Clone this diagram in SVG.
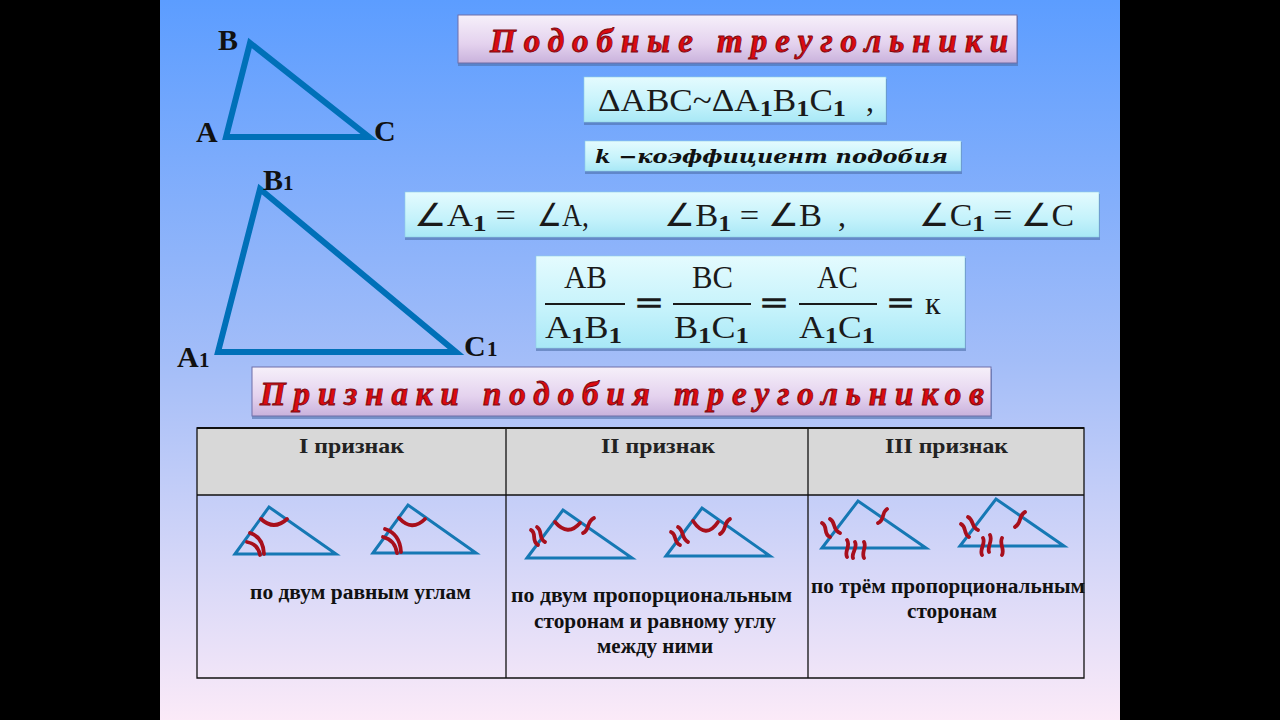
<svg xmlns="http://www.w3.org/2000/svg" width="1280" height="720" viewBox="0 0 1280 720">
<defs>
<linearGradient id="bg" x1="0" y1="0" x2="0" y2="1"><stop offset="0" stop-color="#5c9dff"/><stop offset="0.5" stop-color="#a3bdf8"/><stop offset="1" stop-color="#fbeaf8"/></linearGradient>
<linearGradient id="pink" x1="0" y1="0" x2="0" y2="1"><stop offset="0" stop-color="#f6f0fa"/><stop offset="0.6" stop-color="#e4d2ee"/><stop offset="1" stop-color="#c9b2dc"/></linearGradient>
<linearGradient id="cyan" x1="0" y1="0" x2="0" y2="1"><stop offset="0" stop-color="#e4fbfe"/><stop offset="0.6" stop-color="#c4f2fb"/><stop offset="1" stop-color="#a8e8f6"/></linearGradient>
</defs>
<style>
.pink{fill:url(#pink);stroke:#6f6fa8;stroke-width:1}
.cyan{fill:url(#cyan);stroke:#8fd0e4;stroke-width:.6}
.sh{fill:#4c6ea8;opacity:.6}
.title{font:italic bold 33px "Liberation Serif",serif;fill:#dc0a10;stroke:#7a0a10;stroke-width:.9}
.m{font:32px "Liberation Serif",serif;fill:#1a1a1a}
.s{font-weight:bold;font-size:24px}
.eq{stroke:#1a1a1a;stroke-width:1.4}
.lab{font:bold 30px "Liberation Serif",serif;fill:#111}
.sub{font:bold 21px "Liberation Serif",serif;fill:#111}
.cap{font:bold 20px "Liberation Serif",serif;fill:#111}
.hd{font:bold 22px "Liberation Serif",serif;fill:#222}
.big{fill:none;stroke:#0070b8;stroke-linejoin:miter}
.tri{fill:none;stroke:#1578b4;stroke-width:3}
.mk{fill:none;stroke:#a80f1c;stroke-width:3.8;stroke-linecap:round}
.grid{fill:none;stroke:#111;stroke-width:1.3}
.fr{stroke:#1a1a1a;stroke-width:2}
</style>
<rect width="1280" height="720" fill="#000"/>
<rect x="160" width="960" height="720" fill="url(#bg)"/>

<g id="triangle-abc">
<path class="big" stroke-width="6" d="M226 137L250 43L369 137Z"/>
<text class="lab" x="218" y="50">B</text><text class="lab" x="196" y="142">A</text><text class="lab" x="374" y="141">C</text>
</g>
<g id="triangle-a1b1c1">
<path class="big" stroke-width="6" d="M218 352L260 189L456 352Z"/>
<text class="lab" x="263" y="190">B</text><text class="sub" x="283" y="190">1</text>
<text class="lab" x="177" y="367">A</text><text class="sub" x="199" y="367">1</text>
<text class="lab" x="464" y="356">C</text><text class="sub" x="487" y="356">1</text>
</g>

<g id="title-main">
<rect class="sh" x="458" y="16" width="560" height="50"/><rect class="pink" x="458" y="15" width="559" height="48"/>
<text class="title" x="490" y="52" textLength="518" lengthAdjust="spacing">Подобные  треугольники</text>
</g>
<g id="similar">
<rect class="sh" x="584" y="79" width="303" height="46"/><rect class="cyan" x="584" y="77" width="302" height="45"/>
<text class="m" x="598" y="111" textLength="248" lengthAdjust="spacingAndGlyphs">ΔABC~ΔA<tspan class="s" dy="5">1</tspan><tspan dy="-5">B</tspan><tspan class="s" dy="5">1</tspan><tspan dy="-5">C</tspan><tspan class="s" dy="5">1</tspan></text>
<text class="m" x="866" y="111">,</text>
</g>
<g id="coef">
<rect class="sh" x="585" y="142" width="377" height="32"/><rect class="cyan" x="585" y="141" width="376" height="30"/>
<text x="595" y="163" textLength="353" lengthAdjust="spacingAndGlyphs" font-family="DejaVu Serif,serif" font-weight="bold" font-style="italic" font-size="19" fill="#111">k −коэффициент подобия</text>
</g>
<g id="angles">
<rect class="sh" x="405" y="194" width="695" height="46"/><rect class="cyan" x="405" y="192" width="694" height="45"/>
<text class="m" x="414" y="226" textLength="102" lengthAdjust="spacingAndGlyphs">∠A<tspan class="s" dy="5">1</tspan><tspan dy="-5"> =</tspan></text>
<text class="m" x="537" y="226" textLength="52" lengthAdjust="spacingAndGlyphs">∠A,</text>
<text class="m" x="664" y="226" textLength="158" lengthAdjust="spacingAndGlyphs">∠B<tspan class="s" dy="5">1</tspan><tspan dy="-5"> = ∠B</tspan></text>
<text class="m" x="838" y="226">,</text>
<text class="m" x="919" y="226" textLength="155" lengthAdjust="spacingAndGlyphs">∠C<tspan class="s" dy="5">1</tspan><tspan dy="-5"> = ∠C</tspan></text>
</g>
<g id="ratio">
<rect class="sh" x="536" y="258" width="430" height="93"/><rect class="cyan" x="536" y="256" width="429" height="92"/>
<path class="fr" d="M545 304H625M673 304H751M799 304H877"/>
<text class="m" x="564" y="288" textLength="43" lengthAdjust="spacingAndGlyphs">AB</text><text class="m" x="692" y="288" textLength="41" lengthAdjust="spacingAndGlyphs">BC</text><text class="m" x="817" y="288" textLength="41" lengthAdjust="spacingAndGlyphs">AC</text>
<text class="m" x="545" y="338" textLength="77" lengthAdjust="spacingAndGlyphs">A<tspan class="s" dy="5">1</tspan><tspan dy="-5">B</tspan><tspan class="s" dy="5">1</tspan></text>
<text class="m" x="674" y="338" textLength="75" lengthAdjust="spacingAndGlyphs">B<tspan class="s" dy="5">1</tspan><tspan dy="-5">C</tspan><tspan class="s" dy="5">1</tspan></text>
<text class="m" x="799" y="338" textLength="76" lengthAdjust="spacingAndGlyphs">A<tspan class="s" dy="5">1</tspan><tspan dy="-5">C</tspan><tspan class="s" dy="5">1</tspan></text>
<text class="m eq" x="636" y="314" textLength="26" lengthAdjust="spacingAndGlyphs">=</text><text class="m eq" x="761" y="314" textLength="26" lengthAdjust="spacingAndGlyphs">=</text><text class="m eq" x="888" y="314" textLength="25" lengthAdjust="spacingAndGlyphs">=</text><text class="m" x="925" y="314">к</text>
</g>
<g id="title-criteria">
<rect class="sh" x="252" y="369" width="740" height="50"/><rect class="pink" x="252" y="367" width="739" height="49"/>
<text class="title" x="260" y="405" font-size="35" textLength="724" lengthAdjust="spacing">Признаки  подобия  треугольников</text>
</g>

<g id="table">
<rect x="197" y="428" width="887" height="67" fill="#d8d8d8"/>
<path class="grid" d="M197 428H1084V678H197ZM197 495H1084M506 428V678M808 428V678"/>
<path d="M197 428H1084" stroke="#111" stroke-width="2"/>
<text class="hd" x="299" y="453" textLength="105" lengthAdjust="spacingAndGlyphs">I признак</text><text class="hd" x="601" y="453" textLength="114" lengthAdjust="spacingAndGlyphs">II признак</text><text class="hd" x="885" y="453" textLength="123" lengthAdjust="spacingAndGlyphs">III признак</text>
</g>

<g id="criterion-1">
<path class="tri" d="M235 554L269 507L336 554Z"/>
<path class="tri" d="M373 553L408 505L476 553Z"/>
<path class="mk" d="M261 519Q274 531 287 519M250 533Q263 537 264 554M247 542Q258 544 260 555M399 518Q412 532 425 519M385 529Q400 534 401 552M383 537Q395 540 397 553"/>
<text class="cap" x="250" y="599" textLength="221" lengthAdjust="spacingAndGlyphs">по двум равным углам</text>
</g>
<g id="criterion-2">
<path class="tri" d="M527 558L563 510L632 558Z"/>
<path class="tri" d="M666 556L702 508L770 556Z"/>
<path class="mk" d="M555 522Q568 537 580 523M583 533C590 530 586 522 594 518M531 530C537 533 531 541 538 545M537 527C543 531 538 538 545 542M693 521Q706 540 718 522M720 534C727 530 723 523 730 519M671 532C677 534 673 542 680 545M678 527C684 530 681 538 688 542"/>
<text class="cap" x="511" y="602" textLength="281" lengthAdjust="spacingAndGlyphs">по двум  пропорциональным</text>
<text class="cap" x="534" y="628" textLength="242" lengthAdjust="spacingAndGlyphs">сторонам и равному углу</text>
<text class="cap" x="597" y="653" textLength="116" lengthAdjust="spacingAndGlyphs">между ними</text>
</g>
<g id="criterion-3">
<path class="tri" d="M822 548L858 501L926 548Z"/>
<path class="tri" d="M960 546L996 499L1064 546Z"/>
<path class="mk" d="M822 523C828 526 823 534 830 537M830 519C836 522 832 530 840 533M878 523C885 520 881 513 887 509M847 540C851 546 844 551 847 557M855 542C858 548 851 553 853 558M864 542C867 547 861 552 864 558M961 524C967 527 963 534 969 537M968 517C974 520 971 527 978 530M1015 527C1022 523 1018 516 1025 512M983 538C986 544 979 549 982 555M990 535C993 541 987 546 989 552M1002 538C999 544 1005 549 1002 555"/>
<text class="cap" x="811" y="593" textLength="274" lengthAdjust="spacingAndGlyphs">по трём пропорциональным</text>
<text class="cap" x="907" y="618" textLength="90" lengthAdjust="spacingAndGlyphs">сторонам</text>
</g>
</svg>
